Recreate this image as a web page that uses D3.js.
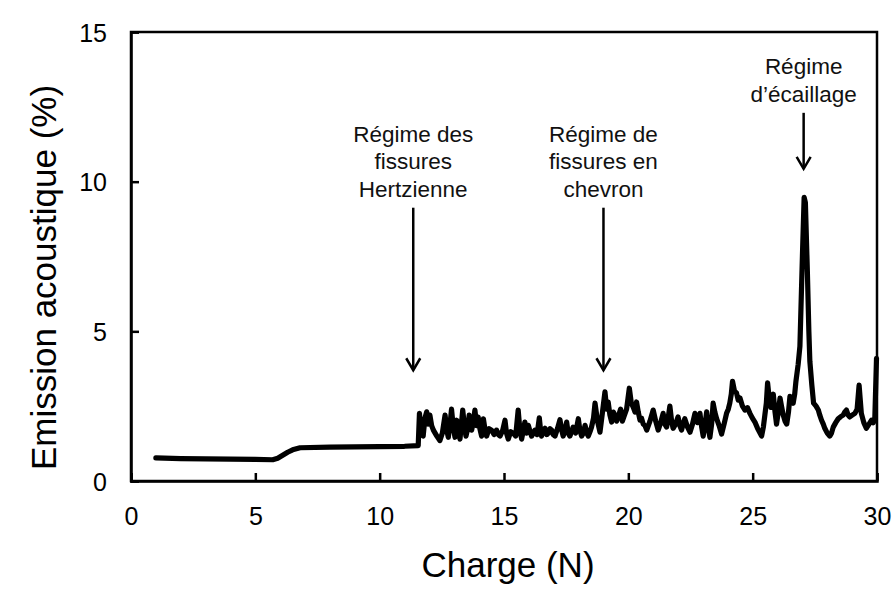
<!DOCTYPE html>
<html>
<head>
<meta charset="utf-8">
<script src="https://cdn.jsdelivr.net/npm/d3@7"></script>
<style>
  html, body { margin: 0; padding: 0; background: #fff; }
  svg { display: block; font-family: "Liberation Sans", Arial, sans-serif; }
</style>
</head>
<body>
<svg id="chart" width="893" height="591"></svg>
<script>
// Acoustic emission (%) recorded against applied load (N)
const charge = [
  1, 2, 3, 4, 5, 5.7, 5.9, 6.1, 6.3, 6.5, 6.8, 8, 9, 10, 11, 11.55,
  11.6, 11.68, 11.75, 11.82, 11.89, 11.95, 12.02, 12.09, 12.16, 12.3, 12.42, 12.52, 12.63, 12.7, 12.76, 12.83, 12.89,
  12.96, 13.03, 13.1, 13.17, 13.23, 13.34, 13.4, 13.47, 13.54, 13.6, 13.7, 13.77, 13.83, 13.9, 13.96, 14.03, 14.1,
  14.17, 14.24, 14.3, 14.4, 14.5, 14.6, 14.7, 14.77, 14.84, 14.95, 15.04, 15.1, 15.17, 15.27, 15.37, 15.47, 15.57,
  15.64, 15.71, 15.78, 15.84, 15.91, 15.98, 16.05, 16.11, 16.18, 16.24, 16.33, 16.42, 16.47, 16.51, 16.58, 16.65, 16.72, 16.78, 16.85, 16.92,
  16.98, 17.05, 17.15, 17.25, 17.32, 17.38, 17.45, 17.52, 17.58, 17.65, 17.72, 17.78, 17.88, 17.99, 18.05, 18.12, 18.19, 18.26, 18.33, 18.39,
  18.46, 18.52, 18.6, 18.66, 18.76, 18.86, 18.96, 19.06, 19.13, 19.19, 19.26, 19.33, 19.4, 19.46, 19.53, 19.59, 19.69, 19.76, 19.82,
  19.93, 20.04, 20.12, 20.2, 20.27, 20.33, 20.4, 20.47, 20.53, 20.6, 20.67, 20.74, 20.87, 21.0, 21.1, 21.2, 21.3, 21.4, 21.47, 21.54,
  21.6, 21.67, 21.74, 21.8, 21.9, 22.0, 22.07, 22.14, 22.2, 22.27, 22.38, 22.48, 22.58, 22.68, 22.78, 22.88, 22.95, 23.01, 23.08, 23.15,
  23.21, 23.28, 23.35, 23.41, 23.48, 23.55, 23.65, 23.75, 23.85, 23.95, 24.02, 24.08, 24.14, 24.19, 24.27, 24.35, 24.42, 24.49, 24.59, 24.69,
  24.79, 24.89, 24.99, 25.09, 25.2, 25.36, 25.43, 25.49, 25.55, 25.6, 25.66, 25.73, 25.78, 25.83, 25.9, 25.96, 26.03, 26.1, 26.16, 26.23,
  26.3, 26.37, 26.44, 26.5, 26.57, 26.63, 26.69, 26.74, 26.83, 26.9, 27.0, 27.07, 27.12, 27.2,
  27.26, 27.3, 27.38, 27.45, 27.55, 27.64, 27.7, 27.77, 27.84, 27.9, 28.0, 28.1, 28.17, 28.24, 28.34, 28.44, 28.54,
  28.64, 28.7, 28.77, 28.84, 28.9, 29.0, 29.11, 29.2, 29.28, 29.37, 29.47, 29.57, 29.68, 29.78, 29.85, 29.91, 29.98
];
const emission = [
  0.77, 0.75, 0.74, 0.73, 0.72, 0.71, 0.76, 0.86, 0.96, 1.04, 1.11, 1.13, 1.14, 1.15, 1.16, 1.18,
  2.26, 1.55, 1.5, 2.1, 2.31, 1.9, 2.2, 1.85, 1.7, 1.5, 1.35, 1.6, 2.2, 1.7, 1.46, 1.9, 2.4,
  1.8, 1.46, 2.03, 1.7, 1.4, 2.37, 1.9, 1.5, 1.75, 2.2, 1.7, 2.0, 2.37, 1.85, 2.14, 1.75, 1.5,
  2.08, 1.7, 1.5, 1.75, 1.7, 1.55, 1.7, 1.55, 1.5, 1.7, 2.03, 1.6, 1.4, 1.65, 1.6, 1.5, 2.37,
  1.7, 1.4, 1.7, 1.97, 1.6, 1.86, 1.65, 1.5, 1.6, 1.7, 1.55, 2.11, 1.7, 1.5, 1.65, 1.76, 1.55, 1.6, 1.75, 1.7,
  1.55, 1.5, 1.75, 2.05, 1.7, 1.5, 1.7, 1.97, 1.6, 1.5, 1.65, 1.8, 1.6, 2.08, 1.7, 1.5, 1.6, 1.86, 1.6, 1.5,
  1.65, 1.8, 2.1, 2.6, 2.0, 1.63, 2.3, 2.98, 2.4, 2.64, 2.2, 1.97, 2.3, 2.2, 2.0, 2.14, 2.4, 2.0, 2.14,
  2.4, 3.1, 2.6, 2.46, 2.3, 2.64, 2.3, 2.03, 2.1, 1.9, 1.85, 1.7, 2.0, 2.37, 2.0, 1.7, 1.95, 2.26, 1.9, 1.8,
  2.1, 2.5, 2.0, 1.76, 1.9, 2.14, 1.85, 1.7, 1.9, 2.08, 1.8, 1.63, 1.9, 2.26, 1.95, 2.26, 1.8, 1.5, 1.85, 2.31,
  1.8, 1.46, 1.9, 2.6, 2.3, 2.08, 1.85, 1.57, 1.9, 2.26, 2.4, 2.6, 2.9, 3.33, 3.0, 2.94, 2.7, 2.77, 2.5, 2.37,
  2.45, 2.26, 2.1, 1.97, 1.75, 1.5, 1.8, 2.2, 2.6, 3.28, 2.8, 2.46, 2.7, 2.9, 2.3, 1.9, 2.3, 2.77, 2.5, 2.2,
  2.0, 1.9, 2.3, 2.83, 2.7, 2.6, 2.9, 3.33, 3.9, 4.5, 7.5, 9.48, 9.3, 7.0,
  5.0, 4.0, 3.2, 2.6, 2.5, 2.37, 2.2, 2.03, 1.9, 1.76, 1.6, 1.5, 1.6, 1.8, 1.95, 2.08, 2.15,
  2.2, 2.3, 2.37, 2.2, 2.14, 2.2, 2.26, 2.4, 3.2, 2.26, 1.95, 1.76, 1.9, 2.03, 1.95, 2.03, 4.1
];
const xTicks = [0, 5, 10, 15, 20, 25, 30];
const yTicks = [0, 5, 10, 15];

// Regime annotations: load position, label lines, arrow span (% units)
const regimeX = [11.35, 19.0, 27.05];
const regimeLabels = [
  ["Régime des", "fissures", "Hertzienne"],
  ["Régime de", "fissures en", "chevron"],
  ["Régime", "d\u2019écaillage"]
];
const arrowTop = [9.13, 9.13, 12.3];
const arrowTip = [3.7, 3.7, 10.43];

const svg = d3.select("#chart");
const margin = { left: 131, right: 16, top: 32, bottom: 110 };
const W = 893, H = 591;

const x = d3.scaleLinear().domain([0, 30]).range([margin.left, W - margin.right]);
const y = d3.scaleLinear().domain([0, 15]).range([H - margin.bottom, margin.top]);

// Frame
svg.append("rect")
  .attr("x", x(0)).attr("y", y(15))
  .attr("width", x(30) - x(0)).attr("height", y(0) - y(15))
  .attr("fill", "none").attr("stroke", "#000").attr("stroke-width", 2.5);

// Axes with inward ticks
const xAxis = svg.append("g")
  .attr("transform", `translate(0,${y(0)})`)
  .call(d3.axisBottom(x).tickValues(xTicks).tickSize(-8).tickPadding(20).tickFormat(d3.format("d")));
const yAxis = svg.append("g")
  .attr("transform", `translate(${x(0)},0)`)
  .call(d3.axisLeft(y).tickValues(yTicks).tickSize(-8).tickPadding(24).tickFormat(d3.format("d")));

[xAxis, yAxis].forEach(g => {
  g.select(".domain").attr("stroke", "#000").attr("stroke-width", 2.5);
  g.selectAll(".tick line").attr("stroke", "#000").attr("stroke-width", 2.5);
  g.selectAll(".tick text")
    .attr("fill", "#000")
    .style("font-size", "25px")
    .style("font-family", "'Liberation Sans', Arial, sans-serif");
});
xAxis.selectAll(".tick text").attr("dy", "0.95em");
yAxis.selectAll(".tick text").attr("dy", "0.36em");

// Axis titles
svg.append("text")
  .attr("x", (x(0) + x(30)) / 2 + 4).attr("y", 577)
  .attr("text-anchor", "middle")
  .style("font-size", "35px")
  .text("Charge (N)");
svg.append("text")
  .attr("transform", `translate(56,${(y(0) + y(15)) / 2 + 21}) rotate(-90)`)
  .attr("text-anchor", "middle")
  .style("font-size", "35px")
  .text("Emission acoustique (%)");

// Signal trace
const pts = charge.map((c, i) => [c, emission[i]]);
svg.append("path")
  .datum(pts)
  .attr("d", d3.line().x(d => x(d[0])).y(d => y(d[1])))
  .attr("fill", "none")
  .attr("stroke", "#000")
  .attr("stroke-width", 5.2)
  .attr("stroke-linejoin", "round")
  .attr("stroke-linecap", "round");

// Regime labels and arrows
const lineH = 27.5;
regimeX.forEach((rx, i) => {
  const px = x(rx);
  const top = y(arrowTop[i]);
  const tip = y(arrowTip[i]);
  const lines = regimeLabels[i];
  const g = svg.append("g");
  lines.forEach((t, j) => {
    g.append("text")
      .attr("x", px)
      .attr("y", top - 11 - (lines.length - 1 - j) * lineH)
      .attr("text-anchor", "middle")
      .style("font-size", "22.5px")
      .attr("fill", "#111")
      .text(t);
  });
  g.append("line")
    .attr("x1", px).attr("x2", px)
    .attr("y1", top).attr("y2", tip)
    .attr("stroke", "#000").attr("stroke-width", 2.5);
  g.append("path")
    .attr("d", `M${px - 7},${tip - 12} L${px},${tip} L${px + 7},${tip - 12}`)
    .attr("fill", "none").attr("stroke", "#000").attr("stroke-width", 2.5)
    .attr("stroke-linejoin", "miter");
});
</script>
</body>
</html>
